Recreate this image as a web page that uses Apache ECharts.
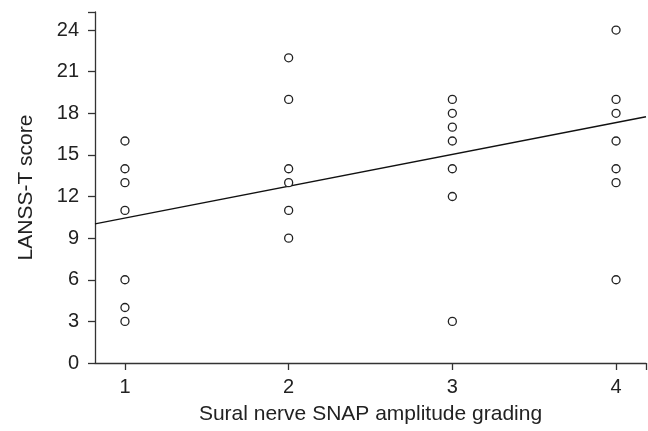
<!DOCTYPE html>
<html><head><meta charset="utf-8">
<script src="https://cdn.jsdelivr.net/npm/echarts@6/dist/echarts.min.js"></script>
<style>html,body{margin:0;padding:0;background:#fff}#c{width:648px;height:431px}</style>
</head><body><div id="c"></div>
<script>
const grade1 = [16, 14, 13, 11, 6, 4, 3];
const grade2 = [22, 19, 14, 13, 11, 9];
const grade3 = [19, 18, 17, 16, 14, 12, 3];
const grade4 = [24, 19, 18, 16, 14, 13, 6];
const grades = [1, 2, 3, 4];
const xTicks = [1, 2, 3, 4];
const yTicks = [0, 3, 6, 9, 12, 15, 18, 21, 24];
const fitX = [0.817, 4.183];
const fitY = [10.03, 17.75];

const groups = [grade1, grade2, grade3, grade4];
const points = [];
groups.forEach((g, i) => g.forEach(v => points.push([grades[i], v])));
const fitLine = fitX.map((x, i) => [x, fitY[i]]);

const axisColor = '#333';
const font = 'Liberation Sans, Arial, sans-serif';
const chart = echarts.init(document.getElementById('c'), null, {renderer: 'canvas'});
chart.setOption({
  animation: false,
  grid: {left: 95, right: 2, top: 12, bottom: 68, containLabel: false},
  xAxis: {
    type: 'value', min: fitX[0], max: fitX[1],
    name: 'Sural nerve SNAP amplitude grading', nameLocation: 'middle', nameGap: 41,
    nameTextStyle: {fontFamily: font, fontSize: 21, color: '#222'},
    splitLine: {show: false},
    axisLine: {show: true, lineStyle: {color: axisColor, width: 1.3}},
    axisTick: {show: true, length: 7, customValues: xTicks.concat([fitX[1]]), lineStyle: {color: axisColor, width: 1.3}},
    axisLabel: {customValues: xTicks, margin: 14, fontFamily: font, fontSize: 20, color: '#222'}
  },
  yAxis: {
    type: 'value', min: 0, max: 25.3,
    name: 'LANSS-T score', nameLocation: 'middle', nameGap: 58, nameRotate: 90,
    nameTextStyle: {fontFamily: font, fontSize: 21, color: '#222'},
    splitLine: {show: false},
    axisLine: {show: true, lineStyle: {color: axisColor, width: 1.3}},
    axisTick: {show: true, length: 7, customValues: yTicks.concat([25.3]), lineStyle: {color: axisColor, width: 1.3}},
    axisLabel: {customValues: yTicks, margin: 16, fontFamily: font, fontSize: 20, color: '#222'}
  },
  series: [
    {
      type: 'scatter', data: points, symbol: 'circle', symbolSize: 8,
      itemStyle: {color: '#fff', borderColor: '#222', borderWidth: 1.3, opacity: 1},
      z: 3
    },
    {
      type: 'line', data: fitLine, symbol: 'none', clip: false,
      lineStyle: {color: '#111', width: 1.3}, z: 2
    }
  ]
});
</script></body></html>
